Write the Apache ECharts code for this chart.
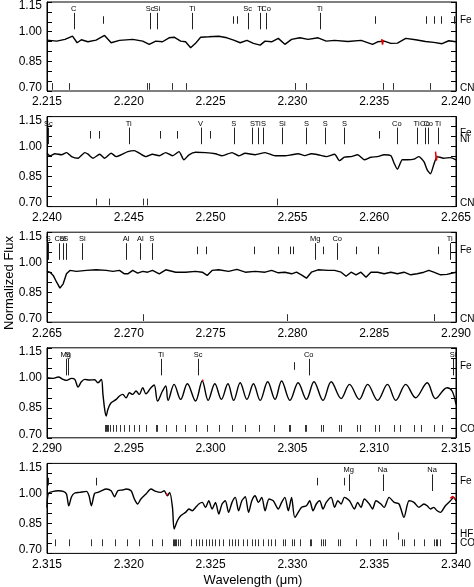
<!DOCTYPE html>
<html><head><meta charset="utf-8">
<script src="https://cdn.jsdelivr.net/npm/echarts@6/dist/echarts.min.js"></script>
<style>html,body{margin:0;padding:0;background:#fff}#c{width:474px;height:587px}</style>
</head><body><div id="c"></div>
<script>
// ---------- data ----------
const xStart = [2.215, 2.240, 2.265, 2.290, 2.315];
const xEnd   = [2.240, 2.265, 2.290, 2.315, 2.340];
const yTickLabels = ['0.70', '0.85', '1.00', '1.15'];

const wave1 = [2.21500,2.21559,2.21610,2.21656,2.21684,2.21710,2.21750,2.21800,2.21852,2.21892,2.21943,2.22024,2.22085,2.22125,2.22165,2.22206,2.22246,2.22277,2.22317,2.22347,2.22378,2.22408,2.22439,2.22489,2.22550,2.22600,2.22641,2.22681,2.22722,2.22762,2.22803,2.22833,2.22873,2.22914,2.22954,2.22995,2.23045,2.23096,2.23157,2.23207,2.23258,2.23339,2.23420,2.23490,2.23521,2.23561,2.23602,2.23642,2.23693,2.23753,2.23814,2.23864,2.23915,2.23956,2.24000];
const flux1 = [0.957,0.952,0.961,0.977,0.944,0.959,0.949,0.957,0.981,0.944,0.956,0.961,0.952,0.936,0.952,0.949,0.969,0.972,0.952,0.949,0.919,0.941,0.972,0.974,0.977,0.969,0.957,0.944,0.956,0.941,0.932,0.952,0.949,0.966,0.936,0.961,0.969,0.961,0.969,0.952,0.956,0.950,0.956,0.936,0.949,0.952,0.941,0.942,0.966,0.959,0.950,0.946,0.939,0.954,0.949];

const wave2 = [2.24000,2.24018,2.24049,2.24089,2.24119,2.24150,2.24190,2.24231,2.24251,2.24281,2.24322,2.24352,2.24392,2.24423,2.24453,2.24494,2.24534,2.24564,2.24605,2.24645,2.24686,2.24726,2.24767,2.24807,2.24837,2.24868,2.24908,2.24969,2.25030,2.25070,2.25131,2.25171,2.25212,2.25272,2.25333,2.25394,2.25454,2.25495,2.25535,2.25576,2.25616,2.25657,2.25707,2.25758,2.25788,2.25818,2.25859,2.25899,2.25940,2.25980,2.26021,2.26061,2.26102,2.26122,2.26142,2.26172,2.26203,2.26243,2.26273,2.26304,2.26324,2.26344,2.26364,2.26385,2.26425,2.26466,2.26500];
const flux2 = [0.967,0.954,0.964,0.959,0.970,0.950,0.942,0.970,0.962,0.942,0.962,0.942,0.967,0.950,0.959,0.975,0.980,0.967,0.950,0.962,0.954,0.970,0.954,0.975,0.934,0.959,0.972,0.970,0.964,0.954,0.970,0.954,0.967,0.959,0.970,0.954,0.954,0.959,0.964,0.955,0.964,0.959,0.950,0.962,0.930,0.947,0.950,0.959,0.934,0.947,0.950,0.959,0.954,0.917,0.887,0.934,0.934,0.937,0.950,0.925,0.884,0.864,0.909,0.950,0.942,0.945,0.934];

const wave3 = [2.26500,2.26518,2.26538,2.26559,2.26579,2.26599,2.26619,2.26640,2.26680,2.26741,2.26801,2.26862,2.26903,2.26943,2.26973,2.26994,2.27024,2.27054,2.27085,2.27115,2.27145,2.27186,2.27226,2.27287,2.27347,2.27408,2.27449,2.27479,2.27509,2.27550,2.27610,2.27661,2.27712,2.27772,2.27833,2.27873,2.27914,2.27954,2.27995,2.28025,2.28055,2.28086,2.28116,2.28157,2.28217,2.28258,2.28298,2.28328,2.28359,2.28389,2.28419,2.28450,2.28480,2.28521,2.28561,2.28602,2.28642,2.28682,2.28723,2.28763,2.28804,2.28834,2.28864,2.28905,2.28945,2.29000];
const flux3 = [0.954,0.950,0.934,0.900,0.870,0.892,0.942,0.959,0.954,0.959,0.962,0.959,0.954,0.959,0.942,0.942,0.959,0.945,0.954,0.950,0.959,0.942,0.962,0.950,0.950,0.954,0.950,0.934,0.959,0.962,0.954,0.964,0.950,0.954,0.950,0.959,0.947,0.950,0.942,0.950,0.937,0.920,0.950,0.962,0.959,0.959,0.950,0.930,0.950,0.937,0.950,0.925,0.950,0.950,0.942,0.950,0.942,0.950,0.937,0.942,0.950,0.959,0.950,0.937,0.939,0.950];

const wave4 = [2.29000,2.29038,2.29069,2.29099,2.29119,2.29150,2.29170,2.29190,2.29210,2.29231,2.29261,2.29291,2.29311,2.29332,2.29342,2.29354,2.29362,2.29372,2.29392,2.29423,2.29443,2.29463,2.29483,2.29504,2.29524,2.29544,2.29564,2.29585,2.29605,2.29635,2.29655,2.29676,2.29706,2.29726,2.29740,2.29777,2.29817,2.29858,2.29908,2.29949,2.29985,2.30026,2.30066,2.30106,2.30141,2.30181,2.30222,2.30262,2.30303,2.30349,2.30394,2.30434,2.30485,2.30535,2.30586,2.30632,2.30687,2.30737,2.30798,2.30849,2.30909,2.30960,2.31021,2.31081,2.31132,2.31193,2.31253,2.31324,2.31375,2.31445,2.31476,2.31500];
const flux4 = [1.000,0.997,1.004,0.992,0.987,0.997,0.992,0.954,0.980,0.992,0.989,0.990,0.975,0.992,0.917,0.834,0.809,0.842,0.875,0.892,0.909,0.917,0.900,0.925,0.917,0.934,0.917,0.950,0.920,0.950,0.964,0.884,0.934,0.959,0.887,0.967,0.892,0.970,0.884,0.984,0.887,0.970,0.892,0.970,0.887,0.975,0.892,0.970,0.887,0.980,0.892,0.984,0.887,0.975,0.892,0.980,0.887,0.980,0.896,0.967,0.892,0.967,0.887,0.967,0.887,0.967,0.900,0.975,0.896,0.950,0.934,0.867];

const wave5 = [2.31500,2.31508,2.31538,2.31569,2.31599,2.31619,2.31633,2.31650,2.31670,2.31700,2.31741,2.31757,2.31771,2.31791,2.31811,2.31832,2.31862,2.31892,2.31913,2.31933,2.31963,2.31983,2.32014,2.32034,2.32054,2.32074,2.32105,2.32135,2.32165,2.32196,2.32216,2.32236,2.32250,2.32267,2.32277,2.32297,2.32317,2.32347,2.32368,2.32388,2.32408,2.32428,2.32449,2.32469,2.32489,2.32509,2.32530,2.32550,2.32570,2.32590,2.32610,2.32631,2.32651,2.32671,2.32691,2.32712,2.32732,2.32752,2.32772,2.32792,2.32813,2.32833,2.32857,2.32883,2.32914,2.32934,2.32954,2.32975,2.32995,2.33015,2.33055,2.33086,2.33106,2.33126,2.33146,2.33167,2.33187,2.33207,2.33237,2.33258,2.33278,2.33298,2.33318,2.33349,2.33379,2.33399,2.33419,2.33440,2.33470,2.33490,2.33511,2.33541,2.33561,2.33591,2.33622,2.33652,2.33682,2.33713,2.33743,2.33773,2.33804,2.33824,2.33844,2.33864,2.33885,2.33905,2.33935,2.33966,2.33986,2.34000];
const flux5 = [0.930,1.000,1.010,1.013,1.010,0.997,0.938,0.983,1.002,1.005,1.010,0.988,0.938,1.000,1.005,1.013,1.022,1.013,0.983,1.013,1.017,1.022,1.013,0.972,0.947,0.972,0.997,1.022,1.010,1.005,1.013,0.988,1.005,0.930,0.822,0.863,0.888,0.905,0.922,0.913,0.930,0.947,0.955,0.930,0.963,0.922,0.955,0.897,0.947,0.963,0.905,0.955,0.980,0.913,0.963,0.983,0.905,0.963,0.988,0.955,0.980,0.913,0.972,0.963,0.922,0.955,0.980,0.913,0.980,0.880,0.930,0.938,0.963,0.913,0.947,0.963,0.922,0.955,0.980,0.930,0.963,0.947,0.980,0.963,0.922,0.955,0.930,0.972,0.947,0.922,0.963,0.947,0.930,0.980,0.955,0.947,0.880,0.963,0.955,0.930,0.947,0.938,0.922,0.930,0.913,0.905,0.938,0.963,0.980,0.963];

// model (red) where it shows beside the observed spectrum
const modelW1 = [2.23546,2.23551,2.23556];   const modelF1 = [0.962,0.935,0.958];
const modelW2 = [2.26375,2.26380,2.26385];   const modelF2 = [0.975,0.930,0.955];
const modelW3 = [];                           const modelF3 = [];
const modelW4 = [2.29949,2.29955];            const modelF4 = [0.984,0.990];
const modelW5 = [2.32230,2.32236,2.32242,2.33966,2.33980,2.33995]; const modelF5 = [1.000,0.990,1.005,0.975,0.985,0.970];

// labelled atomic lines
const atomW1 = [2.21664,2.22131,2.22172,2.22388,2.22726,2.22803,2.22839,2.23167];
const atomL1 = ['C','Sc','Si','Ti','Sc','Ti','Co','Ti'];
const atomW2 = [2.24008,2.24500,2.24939,2.25141,2.25256,2.25288,2.25323,2.25438,2.25586,2.25701,2.25818,2.26138,2.26259,2.26310,2.26330,2.26389];
const atomL2 = ['Sc','Ti','V','S','S','Ti','S','Si','S','S','S','Co','Ti','Co','Co','Ti'];
const atomW3 = [2.26508,2.26575,2.26595,2.26615,2.26716,2.26983,2.27070,2.27141,2.28140,2.28274,2.28962];
const atomL3 = ['S','Co','Si','S','Si','Al','Al','S','Mg','Co','Ti'];
const atomW4 = [2.29115,2.29129,2.29696,2.29924,2.30600,2.31482];
const atomL4 = ['Mg','S','Ti','Sc','Co','Si'];
const atomW5 = [2.33345,2.33551,2.33854];
const atomL5 = ['Mg','Na','Na'];

// Fe lines (short, unlabelled)
const feW1 = [2.21842,2.22635,2.22661,2.23506,2.23814,2.23865,2.23911,2.23986];
const feW2 = [2.24261,2.24318,2.24692,2.24793,2.24999,2.26031];
const feW3 = [2.27414,2.27469,2.27768,2.27914,2.27985,2.28005,2.28187,2.28389,2.28521,2.28889];
const feW4 = [2.30509];
const feW5 = [2.31508,2.31801,2.33150,2.33318];

// molecular lines along the bottom
const cnW1 = [2.21528,2.21634,2.22111,2.22123,2.22267,2.22352,2.23015,2.23086,2.23551,2.23612,2.23840];
const cnW2 = [2.24301,2.24378,2.24585,2.24609,2.25404];
const cnW3 = [2.27089,2.27964,2.28865];
const coW4 = [2.29352,2.29358,2.29366,2.29374,2.29386,2.29403,2.29423,2.29447,2.29473,2.29504,2.29534,2.29564,2.29605,2.29665,2.29672,2.29726,2.29787,2.29843,2.29908,2.29979,2.30054,2.30131,2.30212,2.30297,2.30386,2.30479,2.30487,2.30576,2.30586,2.30677,2.30689,2.30786,2.30798,2.30895,2.30911,2.31004,2.31031,2.31122,2.31156,2.31243,2.31284,2.31365,2.31415];
const coW5 = [2.31549,2.31633,2.31771,2.31838,2.31913,2.31989,2.32064,2.32141,2.32206,2.32271,2.32277,2.32283,2.32291,2.32303,2.32311,2.32378,2.32408,2.32428,2.32449,2.32469,2.32489,2.32509,2.32525,2.32550,2.32574,2.32610,2.32631,2.32651,2.32667,2.32701,2.32722,2.32752,2.32772,2.32792,2.32823,2.32853,2.32869,2.32894,2.32944,2.32954,2.32995,2.33011,2.33045,2.33106,2.33116,2.33177,2.33187,2.33197,2.33278,2.33288,2.33389,2.33476,2.33551,2.33571,2.33672,2.33682,2.33743,2.33804,2.33864,2.33875,2.33885,2.33901];
const hfW5 = [2.33646];

// species names at the right edge
const sideName1 = ['Fe','CN'];        const sideY1 = [1.060,0.715];
const sideName2 = ['Fe','Ni','CN'];   const sideY2 = [1.065,1.035,0.715];
const sideName3 = ['Fe','CN'];        const sideY3 = [1.060,0.715];
const sideName4 = ['Fe','CO'];        const sideY4 = [1.060,0.745];
const sideName5 = ['Fe','HF','CO'];   const sideY5 = [1.060,0.797,0.752];

// ---------- chart ----------
const FONT = '"Liberation Sans", Arial, sans-serif';
const tops = [1, 116.6, 232.2, 347.8, 463.4];
const PH = 90;
const panels = [
  {w:wave1,f:flux1,mw:modelW1,mf:modelF1,aw:atomW1,al:atomL1,fe:feW1,bot:cnW1,botY:[0.706,0.740],hf:[],sn:sideName1,sy:sideY1,sm:0},
  {w:wave2,f:flux2,mw:modelW2,mf:modelF2,aw:atomW2,al:atomL2,fe:feW2,bot:cnW2,botY:[0.706,0.740],hf:[],sn:sideName2,sy:sideY2,sm:0.2},
  {w:wave3,f:flux3,mw:modelW3,mf:modelF3,aw:atomW3,al:atomL3,fe:feW3,bot:cnW3,botY:[0.706,0.740],hf:[],sn:sideName3,sy:sideY3,sm:0},
  {w:wave4,f:flux4,mw:modelW4,mf:modelF4,aw:atomW4,al:atomL4,fe:feW4,bot:coW4,botY:[0.730,0.764],hf:[],sn:sideName4,sy:sideY4,sm:0.35},
  {w:wave5,f:flux5,mw:modelW5,mf:modelF5,aw:atomW5,al:atomL5,fe:feW5,bot:coW5,botY:[0.736,0.770],hf:hfW5,sn:sideName5,sy:sideY5,sm:0.25}
];

const grids = [], xAxes = [], yAxes = [], series = [];
function vlines(gi, ws, ya, yb, color, labels, labelY) {
  return {
    type:'custom', xAxisIndex:gi, yAxisIndex:gi*2, silent:true, animation:false, clip:false, z:3,
    data: ws.map((w,i)=>[w,i]),
    renderItem: (params, api) => {
      const w = api.value(0);
      const p1 = api.coord([w, ya]), p2 = api.coord([w, yb]);
      const x = Math.round(p1[0]) + 0.5;
      const ch = [{type:'line', shape:{x1:x,y1:p1[1],x2:x,y2:p2[1]}, style:{stroke:color, lineWidth:1}}];
      if (labels) {
        const pt = api.coord([w, labelY]);
        ch.push({type:'text', x:pt[0], y:pt[1], style:{text:labels[params.dataIndex], fill:'#000', font:'7.5px ' + FONT, align:'center', verticalAlign:'middle'}});
      }
      return {type:'group', children:ch};
    }
  };
}
// split model points into separate pieces where there is a gap
function modelData(ws, fs) {
  const out = [];
  ws.forEach((w,i) => {
    if (i > 0 && w - ws[i-1] > 0.0003) out.push([null, null]);
    out.push([w, fs[i]]);
  });
  return out;
}

panels.forEach((p, g) => {
  grids.push({left:47, width:412, top:tops[g], height:PH, show:true, borderColor:'#000', borderWidth:1, backgroundColor:'transparent'});
  xAxes.push({
    gridIndex:g, type:'value', min:xStart[g], max:xEnd[g], interval:0.005,
    axisLine:{show:false}, axisTick:{show:false}, splitLine:{show:false},
    axisLabel:{show:true, margin:5, fontSize:12, fontFamily:FONT, color:'#000', showMinLabel:true, showMaxLabel:true, hideOverlap:false,
      formatter: v => v.toFixed(3)}
  });
  const yBase = {
    gridIndex:g, type:'value', min:0.70, max:1.15, interval:0.15,
    axisLine:{show:true, lineStyle:{color:'#000', width:1}},
    axisTick:{show:true, inside:true, length:5, lineStyle:{color:'#000'}},
    minorTick:{show:true, splitNumber:3, length:5, lineStyle:{color:'#000'}},
    splitLine:{show:false}
  };
  yAxes.push(Object.assign({}, yBase, {position:'left',
    axisLabel:{show:true, margin:5, fontSize:12, fontFamily:FONT, color:'#000',
      formatter: v => {
        const s = yTickLabels.find(t => Math.abs(parseFloat(t) - v) < 1e-6) || v.toFixed(2);
        if (s === '1.15') return '{t|' + s + '}';
        if (s === '0.70') return '{b|' + s + '}';
        return s;
      },
      rich:{ t:{fontSize:12, fontFamily:FONT, color:'#000', padding:[8,0,0,0]}, b:{fontSize:12, fontFamily:FONT, color:'#000', padding:[0,0,7,0]} }
    }}));
  yAxes.push(Object.assign({}, yBase, {position:'right', axisLabel:{show:false}}));

  series.push({type:'line', xAxisIndex:g, yAxisIndex:g*2, data:p.w.map((w,i)=>[w,p.f[i]]), showSymbol:false, animation:false,
    smooth:p.sm, lineStyle:{color:'#000', width:1.4}, z:4, silent:true});
  if (p.mw.length) {
    series.push({type:'line', xAxisIndex:g, yAxisIndex:g*2, data:modelData(p.mw, p.mf), showSymbol:false, animation:false, connectNulls:false,
      lineStyle:{color:'#e00000', width:1.5}, z:5, silent:true});
  }
  series.push(vlines(g, p.aw, 1.012, 1.095, '#222', p.al, 1.115));
  series.push(vlines(g, p.fe, 1.040, 1.078, '#222'));
  series.push(vlines(g, p.bot, p.botY[0], p.botY[1], '#333'));
  if (p.hf.length) series.push(vlines(g, p.hf, 0.768, 0.805, '#333'));
  series.push({
    type:'custom', xAxisIndex:g, yAxisIndex:g*2, silent:true, animation:false, clip:false, z:3,
    data: p.sy.map((y,i)=>[xEnd[g], y, i]),
    renderItem: (params, api) => {
      const pt = api.coord([api.value(0), api.value(1)]);
      return {type:'text', x:pt[0]+4, y:pt[1], style:{text:p.sn[params.dataIndex], fill:'#000', font:'10px ' + FONT, align:'left', verticalAlign:'middle'}};
    }
  });
});

const chart = echarts.init(document.getElementById('c'));
chart.setOption({
  animation:false,
  backgroundColor:'#fff',
  grid:grids, xAxis:xAxes, yAxis:yAxes, series:series,
  graphic:[
    {type:'text', x:9, y:283, rotation:Math.PI/2, style:{text:'Normalized Flux', font:'13px ' + FONT, fill:'#000', align:'center', verticalAlign:'middle'}},
    {type:'text', x:253, y:580, style:{text:'Wavelength (\u03bcm)', font:'13px ' + FONT, fill:'#000', align:'center', verticalAlign:'middle'}}
  ]
});
</script></body></html>
